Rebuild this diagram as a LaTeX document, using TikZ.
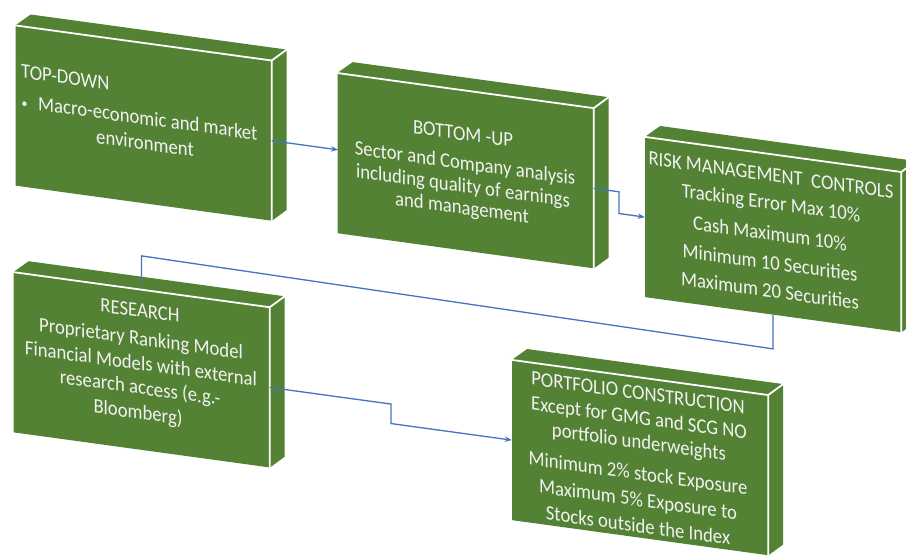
\documentclass[tikz,border=0pt]{standalone}
\usepackage{fontspec}
\setmainfont{Carlito}
\usetikzlibrary{arrows.meta}
\definecolor{boxgreen}{RGB}{84,130,53}
\definecolor{linkblue}{RGB}{68,114,196}
\newcommand\boxfaces[1]{%
  \fill[boxgreen] (#1.north west) -- (#1.north east) -- ++(15,13) -- ++(-256,0) -- cycle;
  \fill[boxgreen] (#1.north east) -- (#1.south east) -- ++(15,13) -- ++(0,160) -- cycle;}
\newcommand\boxedges[1]{%
  \draw[edgeline] (#1.north west) -- (#1.north east) -- (#1.south east);
  \draw[edgeline] (#1.north east) -- ++(15,13);}
\begin{document}
\begin{tikzpicture}[x=1pt,y=1pt,
  front/.style={fill=boxgreen,draw=none,minimum width=256pt,minimum height=160pt,inner sep=0pt,transform shape},
  edgeline/.style={draw=white,line width=1.8pt},
  txt/.style={text=white!95!black,font=\fontsize{18.7}{22}\selectfont,inner sep=0pt,anchor=base,yscale=1.1,transform shape},
  link/.style={draw=linkblue,line width=1.3pt},
  arr/.style={link,-{Stealth[length=7pt,width=5.5pt]}}]
\clip (0,0) rectangle (906,555);
\fill[white] (0,0) rectangle (906,555);
\begin{scope}[yslant=-0.137]
  % front faces as nodes
  \path (143.5,451.5) node[front] (b1) {};
  \path (465.5,448) node[front] (b2) {};
  \path (773,426.25) node[front] (b3) {};
  \path (141.5,204.5) node[front] (b4) {};
  \path (640,185) node[front] (b5) {};
  \foreach \b in {b1,b2,b3,b4,b5}{\boxfaces{\b}}
  \foreach \b in {b1,b2,b3,b4,b5}{\boxedges{\b}}

  % connectors
  \coordinate (p1) at (338,451.5);
  \draw[arr] (b1.east) -- (p1);
  \coordinate (p2a) at (619,448);
  \coordinate (p2b) at (619,426.25);
  \draw[arr] (b2.east) -- (p2a) -- (p2b) -- (b3.west);
  \coordinate (p3a) at (773,312);
  \coordinate (p3b) at (141.5,318.5);
  \coordinate (p3c) at (141.5,291);
  \draw[link] (b3.south) -- (p3a) -- (p3b) -- (p3c);
  \coordinate (p4a) at (391,204.5);
  \coordinate (p4b) at (391,185);
  \draw[arr] (b4.east) -- (p4a) -- (p4b) -- (b5.west);

  % box 1 text
  \node[txt,anchor=base west] (t1a) at (21,480) {TOP-DOWN};
  \node[txt] (t1b) at (24.5,450) {\fontsize{12}{12}\selectfont •};
  \node[txt,anchor=base west] (t1c) at (38,450) {Macro-economic and market};
  \node[txt] (t1d) at (145,425) {environment};
  % box 2 text
  \node[txt] (t2a) at (463,478) {BOTTOM -UP};
  \node[txt] (t2b) at (465,449) {Sector and Company analysis};
  \node[txt] (t2c) at (463,426) {including quality of earnings};
  \node[txt] (t2d) at (462,404) {and management};
  % box 3 text
  \node[txt] (t3a) at (771,479) {RISK MANAGEMENT\ \ CONTROLS};
  \node[txt] (t3b) at (771,451) {Tracking Error Max 10\%};
  \node[txt] (t3c) at (770,420) {Cash Maximum 10\%};
  \node[txt] (t3d) at (770,391) {Minimum 10 Securities};
  \node[txt] (t3e) at (770,363) {Maximum 20 Securities};
  % box 4 text
  \node[txt] (t4a) at (140,257) {RESEARCH};
  \node[txt] (t4b) at (141,229) {Proprietary Ranking Model};
  \node[txt] (t4c) at (141,204) {Financial Models with external};
  \node[txt] (t4d) at (140,180) {research access (e.g.-};
  \node[txt] (t4e) at (138,155) {Bloomberg)};
  % box 5 text
  \node[txt] (t5a) at (638,243) {PORTFOLIO CONSTRUCTION};
  \node[txt] (t5b) at (639,218) {Except for GMG and SCG NO};
  \node[txt] (t5c) at (639,194) {portfolio underweights};
  \node[txt] (t5d) at (638,162.5) {Minimum 2\% stock Exposure};
  \node[txt] (t5e) at (638,136) {Maximum 5\% Exposure to};
  \node[txt] (t5f) at (638,110) {Stocks outside the Index};
\end{scope}
\end{tikzpicture}
\end{document}
